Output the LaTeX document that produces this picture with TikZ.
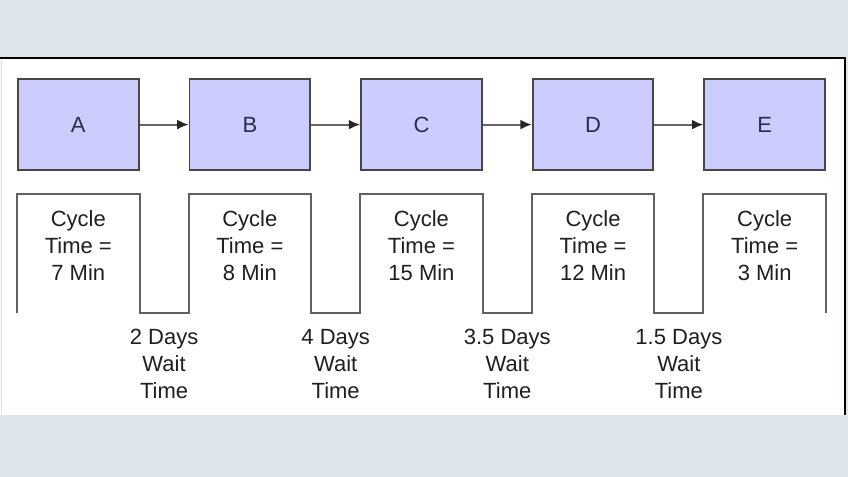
\documentclass[tikz,border=0pt]{standalone}
\usepackage{fontspec}
\setmainfont{Liberation Sans}
\usetikzlibrary{arrows.meta,calc,positioning}
\definecolor{pagebg}{HTML}{DDE5EC}
\definecolor{stagefill}{HTML}{CCCCFF}
\definecolor{stagetext}{HTML}{2B2B4A}

\begin{document}
\begin{tikzpicture}[
    x=0.75pt, y=-0.75pt,
    font=\fontsize{16.5}{20.25}\selectfont,
    stage/.style={draw=black!72, line width=1.4pt, fill=stagefill,
                  minimum width=90.5pt, minimum height=68.5pt,
                  font=\fontsize{16.5}{18}\selectfont, text=stagetext},
    column/.style={minimum width=91.5pt, minimum height=88.5pt, inner sep=0pt},
    note/.style={align=center, text=black!88},
    arrow/.style={-{Latex[length=3mm,width=2.6mm,color=black!85]}, line width=1.5pt, black!60},
    stepline/.style={line width=1.5pt, black!62}
]
% page and panel
\fill[pagebg] (0,0) rectangle (848,477);
\useasboundingbox (0,0) rectangle (848,477);
\fill[white] (0,58) rectangle (845,415);
\draw[black!12, line width=1pt] (1.5,58) -- (1.5,415);
\draw[black, line width=1.6pt] (0,58) -- (845,58) -- (845,415);

% process boxes
\node[stage, anchor=north west] (A) at (17,78) {A};
\node[stage, right=36.8pt of A] (B) {B};
\node[stage, right=36.8pt of B] (C) {C};
\node[stage, right=36.8pt of C] (D) {D};
\node[stage, right=36.8pt of D] (E) {E};
\draw[arrow] (A) -- (B);
\draw[arrow] (B) -- (C);
\draw[arrow] (C) -- (D);
\draw[arrow] (D) -- (E);

% timeline columns
\node[column, below=17.25pt of A] (cA) {};
\node[column, below=17.25pt of B] (cB) {};
\node[column, below=17.25pt of C] (cC) {};
\node[column, below=17.25pt of D] (cD) {};
\node[column, below=17.25pt of E] (cE) {};
\draw[stepline] (cA.south west) -- (cA.north west) -- (cA.north east)
    -- (cA.south east) -- (cB.south west) -- (cB.north west) -- (cB.north east)
    -- (cB.south east) -- (cC.south west) -- (cC.north west) -- (cC.north east)
    -- (cC.south east) -- (cD.south west) -- (cD.north west) -- (cD.north east)
    -- (cD.south east) -- (cE.south west) -- (cE.north west) -- (cE.north east)
    -- (cE.south east);

\node[note] (tA) at ([yshift=-38.25pt]cA.north) {Cycle\\Time =\\7 Min};
\node[note] (tB) at ([yshift=-38.25pt]cB.north) {Cycle\\Time =\\8 Min};
\node[note] (tC) at ([yshift=-38.25pt]cC.north) {Cycle\\Time =\\15 Min};
\node[note] (tD) at ([yshift=-38.25pt]cD.north) {Cycle\\Time =\\12 Min};
\node[note] (tE) at ([yshift=-38.25pt]cE.north) {Cycle\\Time =\\3 Min};

% wait times
\node[note] (wAB) at ([yshift=-38.25pt]$(cA.south east)!0.5!(cB.south west)$)
    {2 Days\\Wait\\Time};
\node[note] (wBC) at ([yshift=-38.25pt]$(cB.south east)!0.5!(cC.south west)$)
    {4 Days\\Wait\\Time};
\node[note] (wCD) at ([yshift=-38.25pt]$(cC.south east)!0.5!(cD.south west)$)
    {3.5 Days\\Wait\\Time};
\node[note] (wDE) at ([yshift=-38.25pt]$(cD.south east)!0.5!(cE.south west)$)
    {1.5 Days\\Wait\\Time};
\end{tikzpicture}
\end{document}
